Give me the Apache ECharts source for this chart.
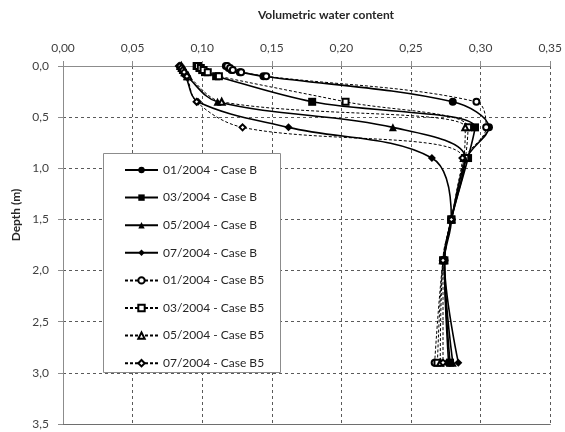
<!DOCTYPE html>
<html>
<head>
<meta charset="utf-8">
<script src="https://cdn.jsdelivr.net/npm/echarts@6/dist/echarts.min.js"></script>
<style>
  html, body { margin: 0; padding: 0; background: #fff; }
  #chart { width: 565px; height: 432px; }
</style>
</head>
<body>
<div id="chart"></div>
<script>
// Measurement depths (m) shared by every profile
const depths = [0, 0.02, 0.04, 0.06, 0.1, 0.35, 0.6, 0.9, 1.5, 1.9, 2.9];

// Volumetric water content profiles, Case B
const jan04B = [0.117, 0.119, 0.121, 0.127, 0.144, 0.280, 0.306, 0.290, 0.279, 0.274, 0.277];
const mar04B = [0.096, 0.098, 0.100, 0.102, 0.110, 0.179, 0.296, 0.291, 0.279, 0.274, 0.278];
const may04B = [0.084, 0.085, 0.086, 0.087, 0.089, 0.111, 0.237, 0.289, 0.279, 0.274, 0.280];
const jul04B = [0.083, 0.084, 0.085, 0.086, 0.088, 0.097, 0.162, 0.265, 0.279, 0.274, 0.284];

// Volumetric water content profiles, Case B5
const jan04B5 = [0.118, 0.120, 0.122, 0.128, 0.146, 0.297, 0.304, 0.289, 0.279, 0.273, 0.267];
const mar04B5 = [0.097, 0.099, 0.101, 0.104, 0.112, 0.203, 0.291, 0.289, 0.279, 0.273, 0.269];
const may04B5 = [0.085, 0.086, 0.087, 0.088, 0.090, 0.114, 0.289, 0.288, 0.279, 0.273, 0.271];
const jul04B5 = [0.084, 0.085, 0.086, 0.087, 0.089, 0.096, 0.129, 0.287, 0.279, 0.273, 0.273];

const seriesNames = [
  '01/2004 - Case B', '03/2004 - Case B', '05/2004 - Case B', '07/2004 - Case B',
  '01/2004 - Case B5', '03/2004 - Case B5', '05/2004 - Case B5', '07/2004 - Case B5'
];
const seriesValues = [jan04B, mar04B, may04B, jul04B, jan04B5, mar04B5, may04B5, jul04B5];
const seriesSymbols = ['circle', 'rect', 'triangle', 'diamond',
  'emptyCircle', 'emptyRect', 'emptyTriangle', 'emptyDiamond'];

const FONT = 'Lato, "Open Sans", sans-serif';

const series = seriesNames.map((name, i) => {
  const dashed = i >= 4;
  return {
    name: name,
    type: 'line',
    smooth: 0.35,
    data: seriesValues[i].map((v, k) => [v, depths[k]]),
    symbol: seriesSymbols[i],
    symbolSize: dashed ? 6 : 8,
    color: '#000',
    itemStyle: { color: '#000', borderColor: '#000', borderWidth: dashed ? 0.8 : 0 },
    lineStyle: dashed
      ? { color: '#000', width: 1, type: [3, 2] }
      : { color: '#000', width: 1.6, type: 'solid' },
    emphasis: { disabled: true },
    z: dashed ? 3 : 2
  };
});

const chart = echarts.init(document.getElementById('chart'), null, { renderer: 'canvas' });
chart.setOption({
  animation: false,
  backgroundColor: '#fff',
  grid: { left: 63, top: 66, right: 12, bottom: 8 },
  xAxis: [{
    type: 'value',
    position: 'top',
    min: 0, max: 0.35, interval: 0.05,
    axisLine: { show: true, lineStyle: { color: '#8c8c8c', width: 1 } },
    axisTick: { show: true, length: 5, lineStyle: { color: '#8c8c8c' } },
    axisLabel: {
      color: '#404040', fontFamily: FONT, fontSize: 12, margin: 12,
      formatter: v => v.toFixed(2).replace('.', ',')
    },
    splitLine: { show: true, lineStyle: { color: '#5a5a5a', width: 1, type: [3, 3] } }
  }, {
    type: 'value',
    position: 'bottom',
    min: 0, max: 0.35, interval: 0.05,
    axisLine: { show: true, onZero: false, lineStyle: { color: '#6e6e6e', width: 1 } },
    axisTick: { show: false },
    axisLabel: { show: false },
    splitLine: { show: false }
  }],
  yAxis: {
    type: 'value',
    inverse: true,
    min: 0, max: 3.5, interval: 0.5,
    axisLine: { show: true, onZero: false, lineStyle: { color: '#8c8c8c', width: 1 } },
    axisTick: { show: true, length: 5, lineStyle: { color: '#8c8c8c' } },
    axisLabel: {
      color: '#404040', fontFamily: FONT, fontSize: 12, margin: 14,
      formatter: v => v.toFixed(1).replace('.', ',')
    },
    splitLine: { show: true, lineStyle: { color: '#5a5a5a', width: 1, type: [3, 3] } }
  },
  legend: {
    data: seriesNames,
    orient: 'vertical',
    left: 103, top: 157,
    padding: [7, 0, 0, 21],
    itemWidth: 33, itemHeight: 8,
    itemGap: 15.6,
    textStyle: { color: '#262626', fontFamily: FONT, fontSize: 12 },
    backgroundColor: 'transparent',
    selectedMode: false,
    z: 5
  },
  graphic: [
    {
      type: 'rect', z: 4,
      shape: { x: 103.5, y: 153.5, width: 177, height: 219 },
      style: { fill: '#fff', stroke: '#8c8c8c', lineWidth: 1 }
    },
    {
      type: 'text', z: 5,
      x: 326, y: 15,
      style: {
        text: 'Volumetric water content', fill: '#262626',
        font: 'bold 12px ' + FONT, align: 'center', verticalAlign: 'middle'
      }
    },
    {
      type: 'text', z: 5,
      x: 16, y: 215, rotation: Math.PI / 2,
      style: {
        text: 'Depth (m)', fill: '#262626',
        font: 'bold 12px ' + FONT, align: 'center', verticalAlign: 'middle'
      }
    }
  ],
  series: series
});
</script>
</body>
</html>
